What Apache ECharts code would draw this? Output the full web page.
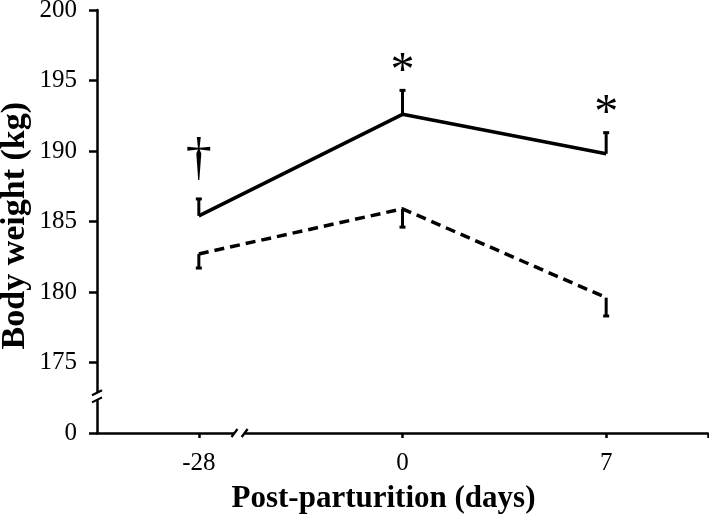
<!DOCTYPE html>
<html>
<head>
<meta charset="utf-8">
<script src="https://cdn.jsdelivr.net/npm/echarts@6/dist/echarts.min.js"></script>
<style>html,body{margin:0;padding:0;background:#fff}#c{width:709px;height:518px}</style>
</head>
<body>
<div id="c"></div>
<script>
// ---- data ----
var categories = ['-28', '0', '7'];
var solidMean = [185.4, 192.6, 189.8];
var solidUpper = [186.6, 194.3, 191.3];
var dashedMean = [182.7, 185.9, 179.6];
var dashedLower = [181.7, 184.6, 178.3];
var annotations = ['\u2020', '*', '*'];
var yTicks = [170, 175, 180, 185, 190, 195, 200];
var yTickLabels = ['0', '175', '180', '185', '190', '195', '200'];
var yTitle = 'Body weight (kg)';
var xTitle = 'Post-parturition (days)';

var FONT = '"Liberation Serif", "Times New Roman", serif';

function pts(arr) { return arr.map(function (v, i) { return [i, v]; }); }

var solidBars = solidMean.map(function (v, i) { return [i, v, solidUpper[i]]; });
var dashedBars = dashedMean.map(function (v, i) { return [i, v, dashedLower[i]]; });
var annData = solidUpper.map(function (v, i) { return [i, v, i]; });

function errRender(params, api) {
  var x = api.value(0);
  var p0 = api.coord([x, api.value(1)]);
  var p1 = api.coord([x, api.value(2)]);
  var s = {stroke: '#000', lineWidth: 3, fill: null};
  return {
    type: 'group',
    children: [
      {type: 'line', shape: {x1: p0[0], y1: p0[1], x2: p1[0], y2: p1[1]}, style: s},
      {type: 'line', shape: {x1: p1[0] - 3, y1: p1[1], x2: p1[0] + 3, y2: p1[1]}, style: s}
    ]
  };
}

function annRender(params, api) {
  var p = api.coord([api.value(0), api.value(1)]);
  var idx = api.value(2);
  var txt = annotations[idx];
  var isDagger = txt === '\u2020';
  return {
    type: 'text',
    x: p[0], y: p[1] + (isDagger ? -13 : 6),
    style: {
      text: txt,
      font: (isDagger ? '52px ' : '48px ') + FONT,
      fill: '#000',
      align: 'center',
      verticalAlign: 'bottom'
    }
  };
}

var chart = echarts.init(document.getElementById('c'));
var option = {
  animation: false,
  backgroundColor: '#fff',
  grid: {left: 97, right: 1, top: 10, bottom: 85, containLabel: false, outerBoundsMode: 'none'},
  xAxis: {
    type: 'value', min: -0.5, max: 2.5,
    name: xTitle, nameLocation: 'middle', nameGap: 50, nameMoveOverlap: false,
    nameTextStyle: {fontFamily: FONT, fontWeight: 'bold', fontSize: 31, color: '#000', padding: [0, 38, 0, 0]},
    splitLine: {show: false},
    axisLine: {lineStyle: {color: '#000', width: 2.5}},
    axisTick: {show: true, customValues: [0, 1, 2, 2.5], length: 5, lineStyle: {color: '#000', width: 2.5}},
    axisLabel: {customValues: [0, 1, 2], margin: 18, fontFamily: FONT, fontSize: 25, color: '#000',
      formatter: function (v) { return categories[Math.round(v)]; }}
  },
  yAxis: {
    type: 'value', min: 170, max: 200, interval: 5,
    splitLine: {show: false},
    axisLine: {show: true, onZero: false, lineStyle: {color: '#000', width: 2.5}},
    axisTick: {show: true, length: 8, lineStyle: {color: '#000', width: 2.5}},
    axisLabel: {margin: 20, fontFamily: FONT, fontSize: 25, color: '#000',
      formatter: function (v) { var i = yTicks.indexOf(v); return i >= 0 ? yTickLabels[i] : ''; }}
  },
  series: [
    {type: 'line', data: pts(solidMean), symbol: 'none', lineStyle: {color: '#000', width: 3.5}, z: 3},
    {type: 'line', data: pts(dashedMean), symbol: 'none', lineStyle: {color: '#000', width: 3.5, type: [10, 6]}, z: 3},
    {type: 'custom', data: solidBars, renderItem: errRender, z: 4},
    {type: 'custom', data: dashedBars, renderItem: errRender, z: 4},
    {type: 'custom', data: annData, renderItem: annRender, z: 5}
  ]
};
chart.setOption(option);

// axis break marks and y title
var yb1 = chart.convertToPixel({gridIndex: 0}, [-0.5, 172.85]);
var yb2 = chart.convertToPixel({gridIndex: 0}, [-0.5, 172.35]);
var xb1 = chart.convertToPixel({gridIndex: 0}, [0.175, 170]);
var xb2 = chart.convertToPixel({gridIndex: 0}, [0.225, 170]);
var yMid = chart.convertToPixel({gridIndex: 0}, [-0.5, 184.7]);
var ls = {stroke: '#000', lineWidth: 2.2};
chart.setOption({
  graphic: [
    {type: 'rect', shape: {x: yb1[0] - 4, y: yb1[1], width: 8, height: yb2[1] - yb1[1]}, style: {fill: '#fff'}, z: 100},
    {type: 'line', shape: {x1: yb1[0] - 5, y1: yb1[1] + 2.5, x2: yb1[0] + 5, y2: yb1[1] - 2.5}, style: ls, z: 101},
    {type: 'line', shape: {x1: yb2[0] - 5, y1: yb2[1] + 2.5, x2: yb2[0] + 5, y2: yb2[1] - 2.5}, style: ls, z: 101},
    {type: 'rect', shape: {x: xb1[0], y: xb1[1] - 4, width: xb2[0] - xb1[0], height: 8}, style: {fill: '#fff'}, z: 100},
    {type: 'line', shape: {x1: xb1[0] - 3, y1: xb1[1] + 4, x2: xb1[0] + 3, y2: xb1[1] - 4}, style: ls, z: 101},
    {type: 'line', shape: {x1: xb2[0] - 3, y1: xb2[1] + 4, x2: xb2[0] + 3, y2: xb2[1] - 4}, style: ls, z: 101},
    {type: 'text', x: yMid[0] - 82, y: yMid[1], rotation: Math.PI / 2,
      style: {text: yTitle, font: 'bold 34px ' + FONT, fill: '#000', align: 'center', verticalAlign: 'middle'}, z: 50}
  ]
});
</script>
</body>
</html>
